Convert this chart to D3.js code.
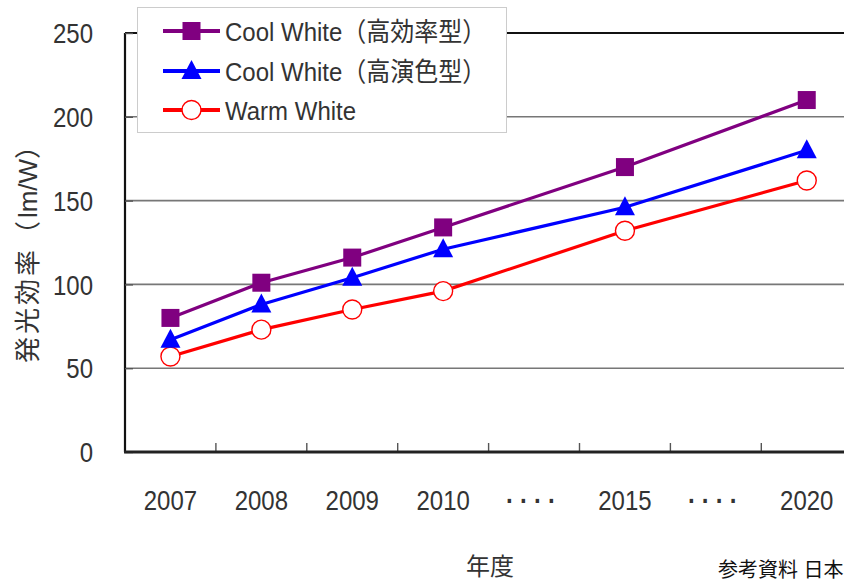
<!DOCTYPE html>
<html><head><meta charset="utf-8">
<script src="https://cdn.jsdelivr.net/npm/d3@7"></script>
<style>
body{margin:0;background:#fff;overflow:hidden}
svg{display:block}
</style></head>
<body>
<svg id="chart" width="844" height="580"></svg>
<script>
const categories = ["2007","2008","2009","2010","····","2015","····","2020"];
const coolHighEff = [80, 101, 116, 134, null, 170, null, 210];
const coolHighCri = [67, 88, 104, 121, null, 146, null, 180];
const warmWhite   = [57, 73, 85, 96, null, 132, null, 162];
const seriesNames = ["Cool White（高効率型）", "Cool White（高演色型）", "Warm White"];
const yTicks = [0, 50, 100, 150, 200, 250];

(function(){
const svg = d3.select("#chart");
const pLeft = 125, pTop = 33, pBottom = 452, bandW = 90.9;
const x = d3.scaleBand().domain(d3.range(categories.length)).range([pLeft, pLeft + bandW*categories.length]).padding(0);
const y = d3.scaleLinear().domain([0, 250]).range([pBottom, pTop]);
const latin = "'Liberation Sans','Noto Sans CJK JP',sans-serif";
const cjk = "'Liberation Sans','Noto Sans CJK JP',sans-serif";

// gridlines
svg.append("g").selectAll("line").data(yTicks.filter(v => v > 0 && v < 250)).join("line")
  .attr("x1", pLeft).attr("x2", 844).attr("y1", d => y(d)).attr("y2", d => y(d))
  .attr("stroke", "#777").attr("stroke-width", 1.6);
// top border
svg.append("line").attr("x1", pLeft).attr("x2", 844).attr("y1", y(250)).attr("y2", y(250))
  .attr("stroke", "#111").attr("stroke-width", 2.2);

// y axis
const yAxis = svg.append("g").attr("transform", `translate(${pLeft},0)`)
  .call(d3.axisRight(y).tickValues(yTicks).tickSize(8).tickFormat(""));
yAxis.select(".domain").attr("stroke", "#111").attr("stroke-width", 2.2).attr("d", `M0,${pTop}V${pBottom}`);
yAxis.selectAll(".tick line").attr("stroke", "#555").attr("stroke-width", 1.4);
svg.append("g").selectAll("text").data(yTicks).join("text")
  .attr("transform", d => `translate(93,${y(d)}) scale(1,1.18)`)
  .attr("dy", "0.36em").attr("text-anchor", "end")
  .attr("font-family", latin).attr("font-size", 24).attr("fill", "#333").text(d => d);

// x axis
const boundaries = d3.range(1, categories.length).map(i => x(i));
svg.append("g").selectAll("line").data(boundaries).join("line")
  .attr("x1", d => d).attr("x2", d => d).attr("y1", pBottom).attr("y2", pBottom - 9)
  .attr("stroke", "#555").attr("stroke-width", 1.4);
svg.append("line").attr("x1", pLeft - 1).attr("x2", 844).attr("y1", pBottom).attr("y2", pBottom)
  .attr("stroke", "#222").attr("stroke-width", 3);
svg.append("g").selectAll("text").data(categories).join("text")
  .attr("transform", (d, i) => `translate(${x(i) + x.bandwidth()/2},500) scale(1,1.18)`)
  .attr("dy", "0.36em")
  .attr("text-anchor", "middle").attr("font-family", latin).attr("font-size", 24)
  .attr("font-weight", d => d.startsWith("·") ? "bold" : "normal")
  .attr("letter-spacing", d => d.startsWith("·") ? 6 : 0)
  .attr("fill", "#333").text(d => d);

// axis titles
const yt = svg.append("text").attr("transform", "translate(28,248) rotate(-90)")
  .attr("text-anchor", "middle").attr("dy", "0.36em")
  .attr("font-family", cjk).attr("font-size", 26).attr("fill", "#333");
yt.append("tspan").attr("letter-spacing", 3).text("発光効率（");
yt.append("tspan").text("lm/W");
yt.append("tspan").text("）");
svg.append("text").attr("x", 490).attr("y", 566).attr("dy", "0.36em").attr("text-anchor", "middle")
  .attr("font-family", cjk).attr("font-size", 24).attr("fill", "#333").text("年度");
svg.append("text").attr("x", 718).attr("y", 577)
  .attr("font-family", cjk).attr("font-size", 20).attr("fill", "#111").text("参考資料  日本");

// series
const series = [
  {name: seriesNames[0], values: coolHighEff, color: "#800080", marker: "square"},
  {name: seriesNames[1], values: coolHighCri, color: "#0000ff", marker: "triangle"},
  {name: seriesNames[2], values: warmWhite, color: "#ff0000", marker: "circle"}
];
const cx = i => x(i) + x.bandwidth()/2;
const line = d3.line().defined(d => d.v != null).x(d => cx(d.i)).y(d => y(d.v));

function drawMarker(g, type, color, px, py) {
  if (type === "square") {
    g.append("rect").attr("x", px - 9).attr("y", py - 9).attr("width", 18).attr("height", 18).attr("fill", color);
  } else if (type === "triangle") {
    g.append("path").attr("d", `M${px},${py-11}L${px+10},${py+8}L${px-10},${py+8}Z`).attr("fill", color);
  } else {
    g.append("circle").attr("cx", px).attr("cy", py).attr("r", 9.5).attr("fill", "#fff")
      .attr("stroke", color).attr("stroke-width", 1.4);
  }
}

series.slice().reverse().forEach(s => {
  const pts = s.values.map((v, i) => ({v, i})).filter(d => d.v != null);
  svg.append("path").datum(pts).attr("d", line).attr("fill", "none")
    .attr("stroke", s.color).attr("stroke-width", 3.2);
});
series.slice().reverse().forEach(s => {
  const g = svg.append("g");
  s.values.forEach((v, i) => { if (v != null) drawMarker(g, s.marker, s.color, cx(i), y(v)); });
});

// legend
const lg = svg.append("g");
lg.append("rect").attr("x", 137.5).attr("y", 7.5).attr("width", 369).attr("height", 125)
  .attr("fill", "#fff").attr("stroke", "#ccc").attr("stroke-width", 1);
const ly = [31, 71, 110];
series.forEach((s, k) => {
  lg.append("line").attr("x1", 163).attr("x2", 220).attr("y1", ly[k]).attr("y2", ly[k])
    .attr("stroke", s.color).attr("stroke-width", 4);
  drawMarker(lg, s.marker, s.color, 191.5, ly[k]);
  lg.append("text").attr("transform", `translate(225,${ly[k]}) scale(1,1.1)`).attr("dy", "0.36em")
    .attr("font-family", latin).attr("font-size", 24).attr("fill", "#333").text(s.name);
});
})();
</script>
</body></html>
